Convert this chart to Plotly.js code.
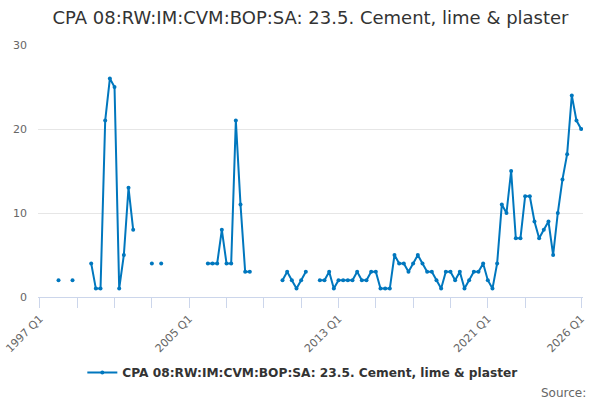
<!DOCTYPE html>
<html>
<head>
<meta charset="utf-8">
<script src="https://cdn.plot.ly/plotly-3.0.1.min.js"></script>
<style>html,body{margin:0;padding:0;background:#fff;}#chart{width:600px;height:400px;}</style>
</head>
<body>
<div id="chart"></div>
<script>
// Quarter categories 1997 Q1 .. 2026 Q1
var startYear = 1997, endYear = 2026;
var quarters = [];
for (var y = startYear; y <= endYear; y++) {
  for (var q = 1; q <= 4; q++) {
    if (y === endYear && q > 1) break;
    quarters.push(y + " Q" + q);
  }
}
var seriesName = "CPA 08:RW:IM:CVM:BOP:SA: 23.5. Cement, lime & plaster";
var values = [
  null, null, null, null, 2, null, null, 2,          // 1997-1998
  null, null, null, 4, 1, 1, 21, 26,                 // 1999-2000
  25, 1, 5, 13, 8, null, null, null,                 // 2001-2002
  4, null, 4, null, null, null, null, null,          // 2003-2004
  null, null, null, null, 4, 4, 4, 8,                // 2005-2006
  4, 4, 21, 11, 3, 3, null, null,                    // 2007-2008
  null, null, null, null, 2, 3, 2, 1,                // 2009-2010
  2, 3, null, null, 2, 2, 3, 1,                      // 2011-2012
  2, 2, 2, 2, 3, 2, 2, 3,                            // 2013-2014
  3, 1, 1, 1, 5, 4, 4, 3,                            // 2015-2016
  4, 5, 4, 3, 3, 2, 1, 3,                            // 2017-2018
  3, 2, 3, 1, 2, 3, 3, 4,                            // 2019-2020
  2, 1, 4, 11, 10, 15, 7, 7,                         // 2021-2022
  12, 12, 9, 7, 8, 9, 5, 10,                         // 2023-2024
  14, 17, 24, 21, 20                                 // 2025-2026 Q1
];
var tickCats = ["1997 Q1","1999 Q1","2001 Q1","2003 Q1","2005 Q1","2007 Q1","2009 Q1","2011 Q1","2013 Q1","2015 Q1","2017 Q1","2019 Q1","2021 Q1","2023 Q1","2026 Q1"];
var tickLabels = ["1997 Q1","","","","2005 Q1","","","","2013 Q1","","","","2021 Q1","","2026 Q1"];
var yTicks = [0, 10, 20, 30];

var trace = {
  x: quarters, y: values, type: "scatter", mode: "lines+markers",
  name: seriesName, connectgaps: false,
  line: {color: "#0077be", width: 2},
  marker: {color: "#0077be", size: 4},
  hoverinfo: "skip"
};
var layout = {
  width: 600, height: 400,
  margin: {l: 38, r: 17, t: 45, b: 103},
  paper_bgcolor: "#fff", plot_bgcolor: "#fff",
  font: {family: "DejaVu Sans, sans-serif", color: "#666"},
  title: {text: "CPA 08:RW:IM:CVM:BOP:SA: 23.5. Cement, lime & plaster",
          x: 0.5, xanchor: "center", xref: "paper", y: 0.955, yanchor: "middle", yref: "container",
          font: {size: 18, color: "#333", family: "DejaVu Sans, sans-serif"}},
  xaxis: {type: "category", categoryorder: "array", categoryarray: quarters,
          range: [-0.4, 116.4], tickmode: "array", tickvals: tickCats, ticktext: tickLabels,
          tickangle: -45, ticks: "outside", ticklen: 10, tickcolor: "#ccd6eb", tickwidth: 1,
          showline: true, linecolor: "#ccd6eb", linewidth: 1, showgrid: false, zeroline: false,
          tickfont: {size: 11, color: "#666"}, fixedrange: true},
  yaxis: {range: [0, 30], tickmode: "array", tickvals: yTicks, showgrid: true, gridcolor: "#e6e6e6",
          zeroline: false, showline: false, ticks: "", ticklabelstandoff: 10,
          tickfont: {size: 11, color: "#666"}, fixedrange: true},
  showlegend: true,
  legend: {orientation: "h", x: 0.485, xanchor: "center", y: -0.30, yanchor: "middle", itemwidth: 30,
           font: {size: 12.2, color: "#333", family: "DejaVu Sans, sans-serif", weight: "bold"}},
  annotations: [{text: "Source:", xref: "paper", yref: "paper", x: 1.009, xanchor: "right",
                 y: -0.38, yanchor: "middle", showarrow: false, font: {size: 12, color: "#666"}}]
};
Plotly.newPlot("chart", [trace], layout, {displayModeBar: false, staticPlot: true});
</script>
</body>
</html>
